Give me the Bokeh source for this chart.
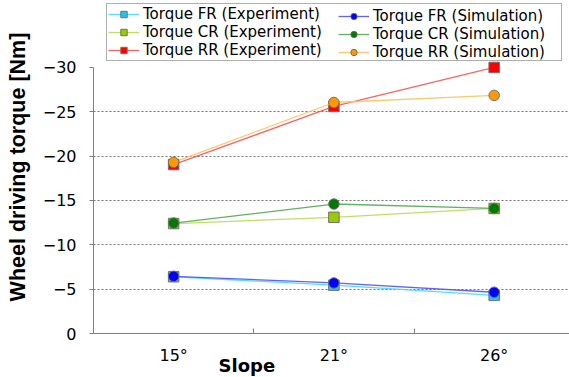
from bokeh.plotting import figure
from bokeh.models import Range1d, FixedTicker, Legend, LegendItem, Title
from bokeh.embed import file_html
from bokeh.resources import INLINE

slopes = ["15°", "21°", "26°"]
xpos = [1, 2, 3]

fr_exp = [-6.4, -5.45, -4.3]
fr_sim = [-6.45, -5.7, -4.65]
cr_exp = [-12.4, -13.1, -14.1]
cr_sim = [-12.45, -14.6, -14.1]
rr_exp = [-19.05, -25.6, -30.0]
rr_sim = [-19.3, -26.05, -26.85]

y_ticks = [0, -5, -10, -15, -20, -25, -30]
grid_ticks = [-5, -10, -15, -20, -25]

FONT = "DejaVu Sans"
TFONT = "Liberation Sans"

# frame extends above -30 to host the legend; axis line bounded to 0..-30
p = figure(width=569, height=377, output_backend="svg", toolbar_location=None,
           x_range=Range1d(0.5, 3.47), y_range=Range1d(0, -37.55),
           min_border_left=93, min_border_right=0, min_border_top=0, min_border_bottom=44)
p.outline_line_color = None
p.background_fill_color = "white"
p.border_fill_color = "white"

xa = p.xaxis[0]
xa.ticker = FixedTicker(ticks=xpos, minor_ticks=[1.5, 2.5])
xa.major_label_overrides = {x: s for x, s in zip(xpos, slopes)}
xa.major_tick_in = 0
xa.major_tick_out = 0
xa.minor_tick_in = 5
xa.minor_tick_out = 0
xa.minor_tick_line_color = "#808080"
xa.axis_line_color = "#808080"
xa.major_label_text_font = FONT
xa.major_label_text_font_size = "16px"
xa.major_label_text_color = "black"
xa.major_label_standoff = 12

ya = p.yaxis[0]
ya.ticker = FixedTicker(ticks=y_ticks)
ya.bounds = (-30, 0)
ya.major_tick_in = 0
ya.major_tick_out = 4
ya.minor_tick_line_color = None
ya.axis_line_color = "#808080"
ya.major_tick_line_color = "#808080"
ya.major_label_text_font = FONT
ya.major_label_text_font_size = "16px"
ya.major_label_text_color = "black"
ya.major_label_standoff = 13
ya.axis_label = "Wheel driving torque [Nm]"
ya.axis_label_text_font = TFONT
ya.axis_label_text_font_size = "21.5px"
ya.axis_label_text_font_style = "bold"
ya.axis_label_text_color = "black"
ya.axis_label_standoff = 10

p.xgrid.grid_line_color = None
p.ygrid.ticker = FixedTicker(ticks=grid_ticks)
p.ygrid.grid_line_color = "#707070"
p.ygrid.grid_line_dash = "2 2"
p.ygrid.grid_line_width = 1

series = [
    ("Torque FR (Experiment)", fr_exp, "#22c4ee", "#40d8ff", "square"),
    ("Torque CR (Experiment)", cr_exp, "#99cc00", "#b8dc50", "square"),
    ("Torque RR (Experiment)", rr_exp, "#ff0000", "#ff5050", "square"),
    ("Torque FR (Simulation)", fr_sim, "#0000ff", "#5050ff", "circle"),
    ("Torque CR (Simulation)", cr_sim, "#007a00", "#50a850", "circle"),
    ("Torque RR (Simulation)", rr_sim, "#ff9900", "#ffc060", "circle"),
]

items = []
for label, ys, fill, lcol, marker in series:
    lr = p.line(xpos, ys, line_color=lcol, line_width=1.3, line_alpha=0.9)
    sr = p.scatter(xpos, ys, marker=marker, size=10.5, fill_color=fill,
                   line_color="#707070", line_width=1)
    items.append(LegendItem(label=label, renderers=[lr, sr]))

common = dict(label_text_font=FONT, label_text_font_size="15px",
              label_text_color="black", label_height=16, glyph_height=16,
              glyph_width=31, label_standoff=4, spacing=0, padding=1, margin=0)

# left column (with the surrounding box) and right column
legend_a = Legend(items=items[:3], location=(13, 272), label_width=417,
                  border_line_color="#606060", border_line_width=1,
                  background_fill_color="white", background_fill_alpha=1, **common)
legend_b = Legend(items=items[3:], location=(245, 272), label_width=150,
                  border_line_color=None, background_fill_alpha=0, **common)
p.add_layout(legend_a, "center")
p.add_layout(legend_b, "center")

slope_title = Title(text="Slope", align="left", offset=125, standoff=-26,
                    vertical_align="top",
                    text_font=FONT, text_font_size="18px", text_font_style="bold",
                    text_color="black")
p.add_layout(slope_title, "below")

open("out.html", "w").write(file_html(p, INLINE))
